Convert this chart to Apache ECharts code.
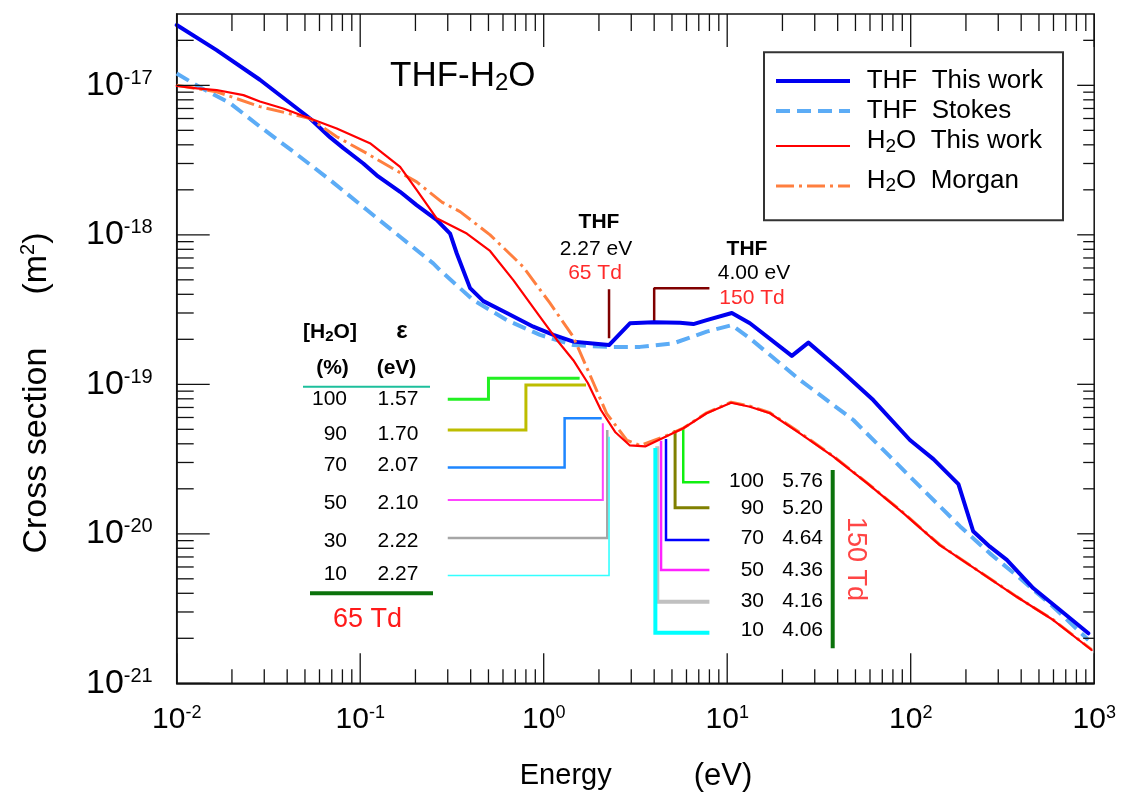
<!DOCTYPE html>
<html>
<head>
<meta charset="utf-8">
<script src="https://cdn.jsdelivr.net/npm/echarts@6/dist/echarts.min.js"></script>
<style>
  html, body { margin: 0; padding: 0; background: #fff; }
  #chart { width: 1123px; height: 796px; }
</style>
</head>
<body>
<div id="chart"></div>
<script>
// ---- axis ranges (energy in eV, cross section in m^2) ----
const E_MIN = 0.01, E_MAX = 1000;
const S_MIN = 1e-21, S_MAX = 3e-17;

// ---- cross sections [energy eV, cross section m^2] ----
const thfThisWork = [
  [0.01, 2.53e-17], [0.0165, 1.72e-17], [0.0284, 1.09e-17], [0.0533, 6.0e-18], [0.0684, 4.5e-18],
  [0.081, 3.8e-18], [0.104, 3.0e-18], [0.123, 2.5e-18], [0.165, 1.94e-18], [0.203, 1.58e-18],
  [0.261, 1.26e-18], [0.309, 1.02e-18], [0.336, 7.5e-19], [0.397, 4.4e-19], [0.469, 3.6e-19],
  [0.629, 3.0e-19], [0.878, 2.43e-19], [1.13, 2.14e-19], [1.45, 1.93e-19], [1.79, 1.88e-19],
  [2.27, 1.83e-19], [2.95, 2.56e-19], [3.96, 2.6e-19], [5.53, 2.58e-19], [6.54, 2.53e-19],
  [7.73, 2.69e-19], [10.6, 3.0e-19], [13.3, 2.56e-19], [22.5, 1.55e-19], [27.7, 1.9e-19],
  [41.2, 1.25e-19], [62.5, 7.85e-20], [99, 4.24e-20], [133, 3.16e-20], [182, 2.15e-20],
  [219, 1.04e-20], [270, 8.2e-21], [334, 6.7e-21], [466, 4.32e-21], [651, 3.09e-21], [929, 2.16e-21]
];
const thfStokes = [
  [0.01, 1.2e-17], [0.0134, 9.7e-18], [0.0195, 7.6e-18], [0.0284, 5.3e-18], [0.0432, 3.6e-18],
  [0.0684, 2.33e-18], [0.1085, 1.47e-18], [0.165, 9.7e-19], [0.25, 6.44e-19], [0.272, 5.8e-19],
  [0.413, 3.66e-19], [0.629, 2.69e-19], [0.955, 2.14e-19], [1.45, 1.83e-19], [2.2, 1.78e-19],
  [3.35, 1.78e-19], [5.09, 1.88e-19], [7.73, 2.25e-19], [10.6, 2.49e-19], [13.3, 2.03e-19],
  [24.9, 1.07e-19], [48.7, 5.77e-20], [77.2, 3.28e-20], [122, 1.87e-20], [186, 1.12e-20],
  [270, 7.4e-21], [394, 5.04e-21], [598, 3.25e-21], [929, 1.95e-21]
];
const h2oThisWork = [
  [0.01, 9.9e-18], [0.0129, 9.55e-18], [0.0165, 9.3e-18], [0.0231, 8.6e-18], [0.0284, 7.8e-18],
  [0.0381, 7.0e-18], [0.0533, 6.0e-18], [0.0745, 5.15e-18], [0.113, 4.1e-18], [0.165, 2.85e-18],
  [0.203, 2.0e-18], [0.261, 1.29e-18], [0.381, 1.02e-18], [0.51, 7.8e-19], [0.683, 4.98e-19],
  [0.955, 2.83e-19], [1.18, 1.98e-19], [1.45, 1.45e-19], [1.74, 1.02e-19], [2.05, 6.73e-20],
  [2.45, 4.8e-20], [2.95, 3.9e-20], [3.57, 3.84e-20], [4.7, 4.51e-20], [5.77, 5.08e-20],
  [7.73, 6.4e-20], [10.5, 7.53e-20], [13.3, 7.08e-20], [17.1, 6.4e-20], [24.9, 4.7e-20],
  [37.9, 3.28e-20], [57.6, 2.19e-20], [90.8, 1.38e-20], [144, 8.4e-21], [229, 5.73e-21],
  [378, 3.79e-21], [598, 2.65e-21], [969, 1.67e-21]
];
const h2oMorgan = [
  [0.01, 1.0e-17], [0.0165, 9.06e-18], [0.0284, 7.2e-18], [0.0533, 6.0e-18], [0.0745, 4.53e-18],
  [0.1085, 3.51e-18], [0.145, 2.85e-18], [0.203, 2.26e-18], [0.28, 1.65e-18], [0.35, 1.43e-18],
  [0.51, 1.0e-18], [0.774, 6.1e-19], [1.08, 3.5e-19], [1.45, 2.08e-19], [1.79, 1.15e-19],
  [2.2, 6.4e-20], [2.83, 4.24e-20], [3.35, 3.9e-20], [4.7, 4.55e-20], [5.77, 5.1e-20],
  [7.73, 6.45e-20], [10.5, 7.6e-20], [13.3, 7.15e-20], [17.1, 6.45e-20], [24.9, 4.75e-20],
  [37.9, 3.3e-20], [57.6, 2.2e-20], [90.8, 1.39e-20], [144, 8.45e-21], [229, 5.75e-21],
  [378, 3.8e-21], [598, 2.66e-21], [969, 1.68e-21]
];

// ---- mean energies of the THF-H2O mixtures ----
const mixPercent = [100, 90, 70, 50, 30, 10];
const eps65 = [1.57, 1.70, 2.07, 2.10, 2.22, 2.27];   // eV at 65 Td
const eps150 = [5.76, 5.20, 4.64, 4.36, 4.16, 4.06];  // eV at 150 Td
const thfEps65 = 2.27, thfEps150 = 4.00;

// leader lines of the 65 Td table: row level, optional step energy, upper level (m^2)
const leadStart65 = 0.3;
const rowLevel65 = [7.94e-20, 4.95e-20, 2.78e-20, 1.68e-20, 9.37e-21, 5.26e-21];
const stepE65 = [0.5, 0.8, 1.3, null, null, null];
const topLevel65 = [1.096e-19, 9.89e-20, 5.92e-20, 5.48e-20, 4.95e-20, 4.46e-20];
// leader lines of the 150 Td table
const leadEnd150 = 8.0;
const rowLevel150 = [2.21e-20, 1.495e-20, 9.09e-21, 5.73e-21, 3.51e-21, 2.18e-21];
const topLevel150 = [5.08e-20, 4.95e-20, 4.3e-20, 4.2e-20, 3.85e-20, 3.75e-20];
// THF markers (m^2)
const thfMark65 = [4.32e-19, 2.03e-19];
const thfMark150 = [4.39e-19, 2.56e-19];

// ---- axis decades ----
const xDecades = [0.01, 0.1, 1, 10, 100, 1000];
const yDecades = [1e-21, 1e-20, 1e-19, 1e-18, 1e-17];

// ---- styles ----
const FONT = 'Liberation Sans, Arial, Helvetica, sans-serif';
const colors65 = ['#22f022', '#bdbd00', '#1e86ff', '#ff44ff', '#a6a6a6', '#33ffff'];
const widths65 = [3, 3, 2.5, 2, 2.5, 1.6];
const colors150 = ['#10f010', '#808000', '#0000ff', '#ff22ff', '#c0c0c0', '#00ffff'];
const widths150 = [2.5, 3, 2.5, 2.5, 4, 4];
const curveStyles = {
  'THF  This work': { color: '#0000f0', width: 4 },
  'THF  Stokes': { color: '#5cacf6', width: 4, dash: [14, 7] },
  'H2O  This work': { color: '#ff0000', width: 2.2 },
  'H2O  Morgan': { color: '#ff7f3f', width: 3, dash: [18, 5, 3, 5] }
};

// minor tick values between decades
function minorTicks(decades) {
  const out = [];
  for (let i = 0; i < decades.length - 1; i++) {
    for (let k = 2; k <= 9; k++) out.push(+(k * decades[i]).toPrecision(3));
  }
  return out;
}
const xTickData = xDecades.map(v => [v, S_MIN, 1]).concat(minorTicks(xDecades).map(v => [v, S_MIN, 0]));
const yTickData = yDecades.map(v => [E_MIN, v, 1]).concat(minorTicks(yDecades).map(v => [E_MIN, v, 0]), [[E_MIN, 2e-17, 0]]);
const yLabelData = yDecades.map(v => [E_MIN, v]);

function exponentOf(v) {
  const lg = Math.log10(v);
  const e = Math.round(lg);
  return Math.abs(lg - e) > 1e-6 ? null : e;
}
function powerLabel(v) {
  const e = exponentOf(v);
  return e === null ? '' : '{b|10}{s|' + e + '}';
}

const tickStyle = { stroke: '#111', lineWidth: 1.3 };
function renderXTicks(params, api) {
  const v = api.value(0), major = api.value(2);
  const b = api.coord([v, S_MIN]), t = api.coord([v, S_MAX]);
  const lb = major ? 30 : 14, lt = major ? 33 : 17;
  return { type: 'group', children: [
    { type: 'line', shape: { x1: b[0], y1: b[1], x2: b[0], y2: b[1] - lb }, style: tickStyle },
    { type: 'line', shape: { x1: t[0], y1: t[1], x2: t[0], y2: t[1] + lt }, style: tickStyle }
  ] };
}
function renderYTicks(params, api) {
  const v = api.value(1), major = api.value(2);
  const l = api.coord([E_MIN, v]), r = api.coord([E_MAX, v]);
  const ll = major ? 33 : 17, lr = major ? 17 : 11;
  return { type: 'group', children: [
    { type: 'line', shape: { x1: l[0], y1: l[1], x2: l[0] + ll, y2: l[1] }, style: tickStyle },
    { type: 'line', shape: { x1: r[0], y1: r[1], x2: r[0] - lr, y2: r[1] }, style: tickStyle }
  ] };
}
// decade labels of the cross-section axis
function renderYLabels(params, api) {
  const v = api.value(1);
  const p = api.coord([E_MIN, v]);
  return {
    type: 'text', x: p[0] - 24, y: p[1],
    style: {
      text: '{b|10}{s|' + exponentOf(v) + '}',
      align: 'right', verticalAlign: 'middle', textAlign: 'right', textVerticalAlign: 'middle',
      rich: {
        b: { font: '34px ' + FONT, fill: '#000', lineHeight: 34 },
        s: { font: '20px ' + FONT, fill: '#000', lineHeight: 20, verticalAlign: 'top' }
      }
    }
  };
}

// leader line series
const leaderSeries = [];
mixPercent.forEach((p, i) => {
  const pts = stepE65[i] != null
    ? [[leadStart65, rowLevel65[i]], [stepE65[i], rowLevel65[i]], [stepE65[i], topLevel65[i]], [eps65[i], topLevel65[i]]]
    : [[leadStart65, rowLevel65[i]], [eps65[i], rowLevel65[i]], [eps65[i], topLevel65[i]]];
  leaderSeries.push({
    type: 'line', name: 'lead65-' + p, data: pts, symbol: 'none', silent: true, z: 1,
    lineStyle: { color: colors65[i], width: widths65[i], join: 'miter' }
  });
  leaderSeries.push({
    type: 'line', name: 'lead150-' + p, silent: true, z: 1, symbol: 'none',
    data: [[eps150[i], topLevel150[i]], [eps150[i], rowLevel150[i]], [leadEnd150, rowLevel150[i]]],
    lineStyle: { color: colors150[i], width: widths150[i], join: 'miter' }
  });
});
leaderSeries.push({
  type: 'line', name: 'mark65', silent: true, z: 1, symbol: 'none',
  data: [[thfEps65, thfMark65[0]], [thfEps65, thfMark65[1]]],
  lineStyle: { color: '#800000', width: 2.5 }
});
leaderSeries.push({
  type: 'line', name: 'mark150', silent: true, z: 1, symbol: 'none',
  data: [[leadEnd150, thfMark150[0]], [thfEps150, thfMark150[0]], [thfEps150, thfMark150[1]]],
  lineStyle: { color: '#800000', width: 2.5 }
});

function curveSeries(name, data, z) {
  const st = curveStyles[name];
  return {
    type: 'line', name: name, data: data, symbol: 'none', z: z, silent: true,
    lineStyle: { color: st.color, width: st.width, type: st.dash || 'solid', join: 'round', cap: st.dash ? 'butt' : 'round' },
    itemStyle: { color: st.color }
  };
}

// ---- overlay text ----
function txt(x, y, text, opts) {
  opts = opts || {};
  return {
    type: 'text', x: x, y: y, rotation: opts.rotation || 0, silent: true, z: 50,
    style: {
      text: text, fill: opts.fill || '#000', rich: opts.rich,
      font: (opts.bold ? 'bold ' : '') + (opts.size || 20) + 'px ' + FONT,
      align: opts.align || 'center', verticalAlign: 'middle',
      textAlign: opts.align || 'center', textVerticalAlign: 'middle'
    }
  };
}
function hline(x1, x2, y, color, w, dash) {
  return { type: 'line', silent: true, z: 50, shape: { x1: x1, y1: y, x2: x2, y2: y },
    style: { stroke: color, lineWidth: w, lineDash: dash || null } };
}
function vline(x, y1, y2, color, w) {
  return { type: 'line', silent: true, z: 50, shape: { x1: x, y1: y1, x2: x, y2: y2 }, style: { stroke: color, lineWidth: w } };
}

const rowY65 = [399, 434, 465, 503, 541.5, 574];
const rowY150 = [481.7, 508.3, 538.3, 570, 601.7, 630];
const graphics = [];
// title
graphics.push(txt(390, 76, '{a|THF-H}{s|2}{a|O}', { align: 'left', rich: {
  a: { font: '35px ' + FONT, fill: '#000', lineHeight: 38 },
  s: { font: '24px ' + FONT, fill: '#000', lineHeight: 10, verticalAlign: 'bottom' }
} }));
// axis titles
graphics.push(txt(37, 393, '{a|Cross section}{g| }{a|(m}{s|2}{a|)}', { rotation: Math.PI / 2, rich: {
  a: { font: '34px ' + FONT, fill: '#000', lineHeight: 38 },
  g: { font: '34px ' + FONT, width: 53, lineHeight: 38 },
  s: { font: '20px ' + FONT, fill: '#000', lineHeight: 20, verticalAlign: 'top' }
} }));
graphics.push(txt(636, 776, '{a|Energy}{g| }{b|(eV)}', { rich: {
  a: { font: '29px ' + FONT, fill: '#000', lineHeight: 34 },
  b: { font: '31px ' + FONT, fill: '#000', lineHeight: 34 },
  g: { font: '29px ' + FONT, width: 82, lineHeight: 34 }
} }));
// THF markers text
graphics.push(txt(599, 222, 'THF', { bold: true, size: 21 }));
graphics.push(txt(596, 249, thfEps65.toFixed(2) + ' eV', { size: 21 }));
graphics.push(txt(595, 273, '65 Td', { size: 21, fill: '#ff2a2a' }));
graphics.push(txt(747, 249, 'THF', { bold: true, size: 21 }));
graphics.push(txt(754, 273, thfEps150.toFixed(2) + ' eV', { size: 21 }));
graphics.push(txt(752, 298, '150 Td', { size: 21, fill: '#ff2a2a' }));
// 65 Td table
graphics.push(txt(330, 332, '{a|[H}{s|2}{a|O]}', { rich: {
  a: { font: 'bold 21px ' + FONT, fill: '#000', lineHeight: 24 },
  s: { font: 'bold 15px ' + FONT, fill: '#000', lineHeight: 9, verticalAlign: 'bottom' }
} }));
graphics.push(txt(402, 331, '\u03b5', { bold: true, size: 24 }));
graphics.push(txt(332.5, 368, '(%)', { bold: true, size: 21 }));
graphics.push(txt(396.5, 368, '(eV)', { bold: true, size: 21 }));
graphics.push(hline(303, 430, 386.7, '#1dbf9c', 2));
mixPercent.forEach((p, i) => {
  graphics.push(txt(347, rowY65[i], String(p), { size: 21, align: 'right' }));
  graphics.push(txt(398, rowY65[i], eps65[i].toFixed(2), { size: 21 }));
});
graphics.push(hline(310, 433, 593.3, '#0b720b', 4));
graphics.push(txt(367.5, 620, '65 Td', { size: 27, fill: '#ff1a1a' }));
// 150 Td table
mixPercent.forEach((p, i) => {
  graphics.push(txt(764, rowY150[i], String(p), { size: 21, align: 'right' }));
  graphics.push(txt(823, rowY150[i], eps150[i].toFixed(2), { size: 21, align: 'right' }));
});
graphics.push(vline(832.7, 470, 648.3, '#0b720b', 4));
graphics.push(txt(855, 559, '150 Td', { size: 27, fill: '#ff4545', rotation: -Math.PI / 2 }));

// ---- key box ----
const keyNames = ['THF  This work', 'THF  Stokes', 'H2O  This work', 'H2O  Morgan'];
const keyRows = [81, 111, 146, 186];
const keyTextY = [80.5, 110.5, 141, 180.5];
graphics.push({ type: 'rect', silent: true, z: 40, shape: { x: 764, y: 52.3, width: 299, height: 168 },
  style: { fill: '#fff', stroke: '#333', lineWidth: 2 } });
keyNames.forEach((name, i) => {
  const st = curveStyles[name];
  graphics.push(hline(776, 850, keyRows[i], st.color, st.width, st.dash));
  const label = name.indexOf('H2O') === 0
    ? '{a|H}{s|2}{a|O' + name.slice(3) + '}'
    : '{a|' + name + '}';
  graphics.push(txt(866.7, keyTextY[i], label, { align: 'left', rich: {
    a: { font: '26px ' + FONT, fill: '#000', lineHeight: 30 },
    s: { font: '19px ' + FONT, fill: '#000', lineHeight: 16, verticalAlign: 'bottom' }
  } }));
});

const chart = echarts.init(document.getElementById('chart'), null, { renderer: 'canvas' });
chart.setOption({
  animation: false,
  backgroundColor: '#fff',
  grid: {
    left: 176.7, right: 28.8, top: 14, bottom: 112.7,
    show: true, borderColor: '#111', borderWidth: 1.5, backgroundColor: 'transparent',
    containLabel: false, outerBoundsMode: 'none'
  },
  xAxis: {
    type: 'log', logBase: 10, min: E_MIN, max: E_MAX,
    axisLine: { show: true, lineStyle: { color: '#111', width: 1.5 } },
    axisTick: { show: false }, splitLine: { show: false }, minorTick: { show: false },
    axisLabel: {
      show: true, margin: 21, showMinLabel: true, showMaxLabel: true, hideOverlap: false,
      formatter: powerLabel,
      rich: {
        b: { fontSize: 30, fontFamily: FONT, color: '#000', lineHeight: 30 },
        s: { fontSize: 18, fontFamily: FONT, color: '#000', lineHeight: 18, verticalAlign: 'top' }
      }
    }
  },
  yAxis: {
    type: 'log', logBase: 10, min: S_MIN, max: S_MAX,
    axisLine: { show: true, lineStyle: { color: '#111', width: 1.5 } },
    axisTick: { show: false }, splitLine: { show: false }, minorTick: { show: false },
    axisLabel: { show: false }
  },
  graphic: graphics,
  series: leaderSeries.concat([
    curveSeries('THF  Stokes', thfStokes, 3),
    curveSeries('THF  This work', thfThisWork, 4),
    curveSeries('H2O  Morgan', h2oMorgan, 5),
    curveSeries('H2O  This work', h2oThisWork, 6),
    {
      type: 'custom', name: 'xticks', data: xTickData, renderItem: renderXTicks, silent: true, z: 10,
      encode: { x: 0, y: 1 }
    },
    {
      type: 'custom', name: 'yticks', data: yTickData, renderItem: renderYTicks, silent: true, z: 10,
      encode: { x: 0, y: 1 }
    },
    {
      type: 'custom', name: 'ylabels', data: yLabelData, renderItem: renderYLabels, silent: true, z: 10,
      clip: false, encode: { x: 0, y: 1 }
    }
  ])
});
</script>
</body>
</html>
